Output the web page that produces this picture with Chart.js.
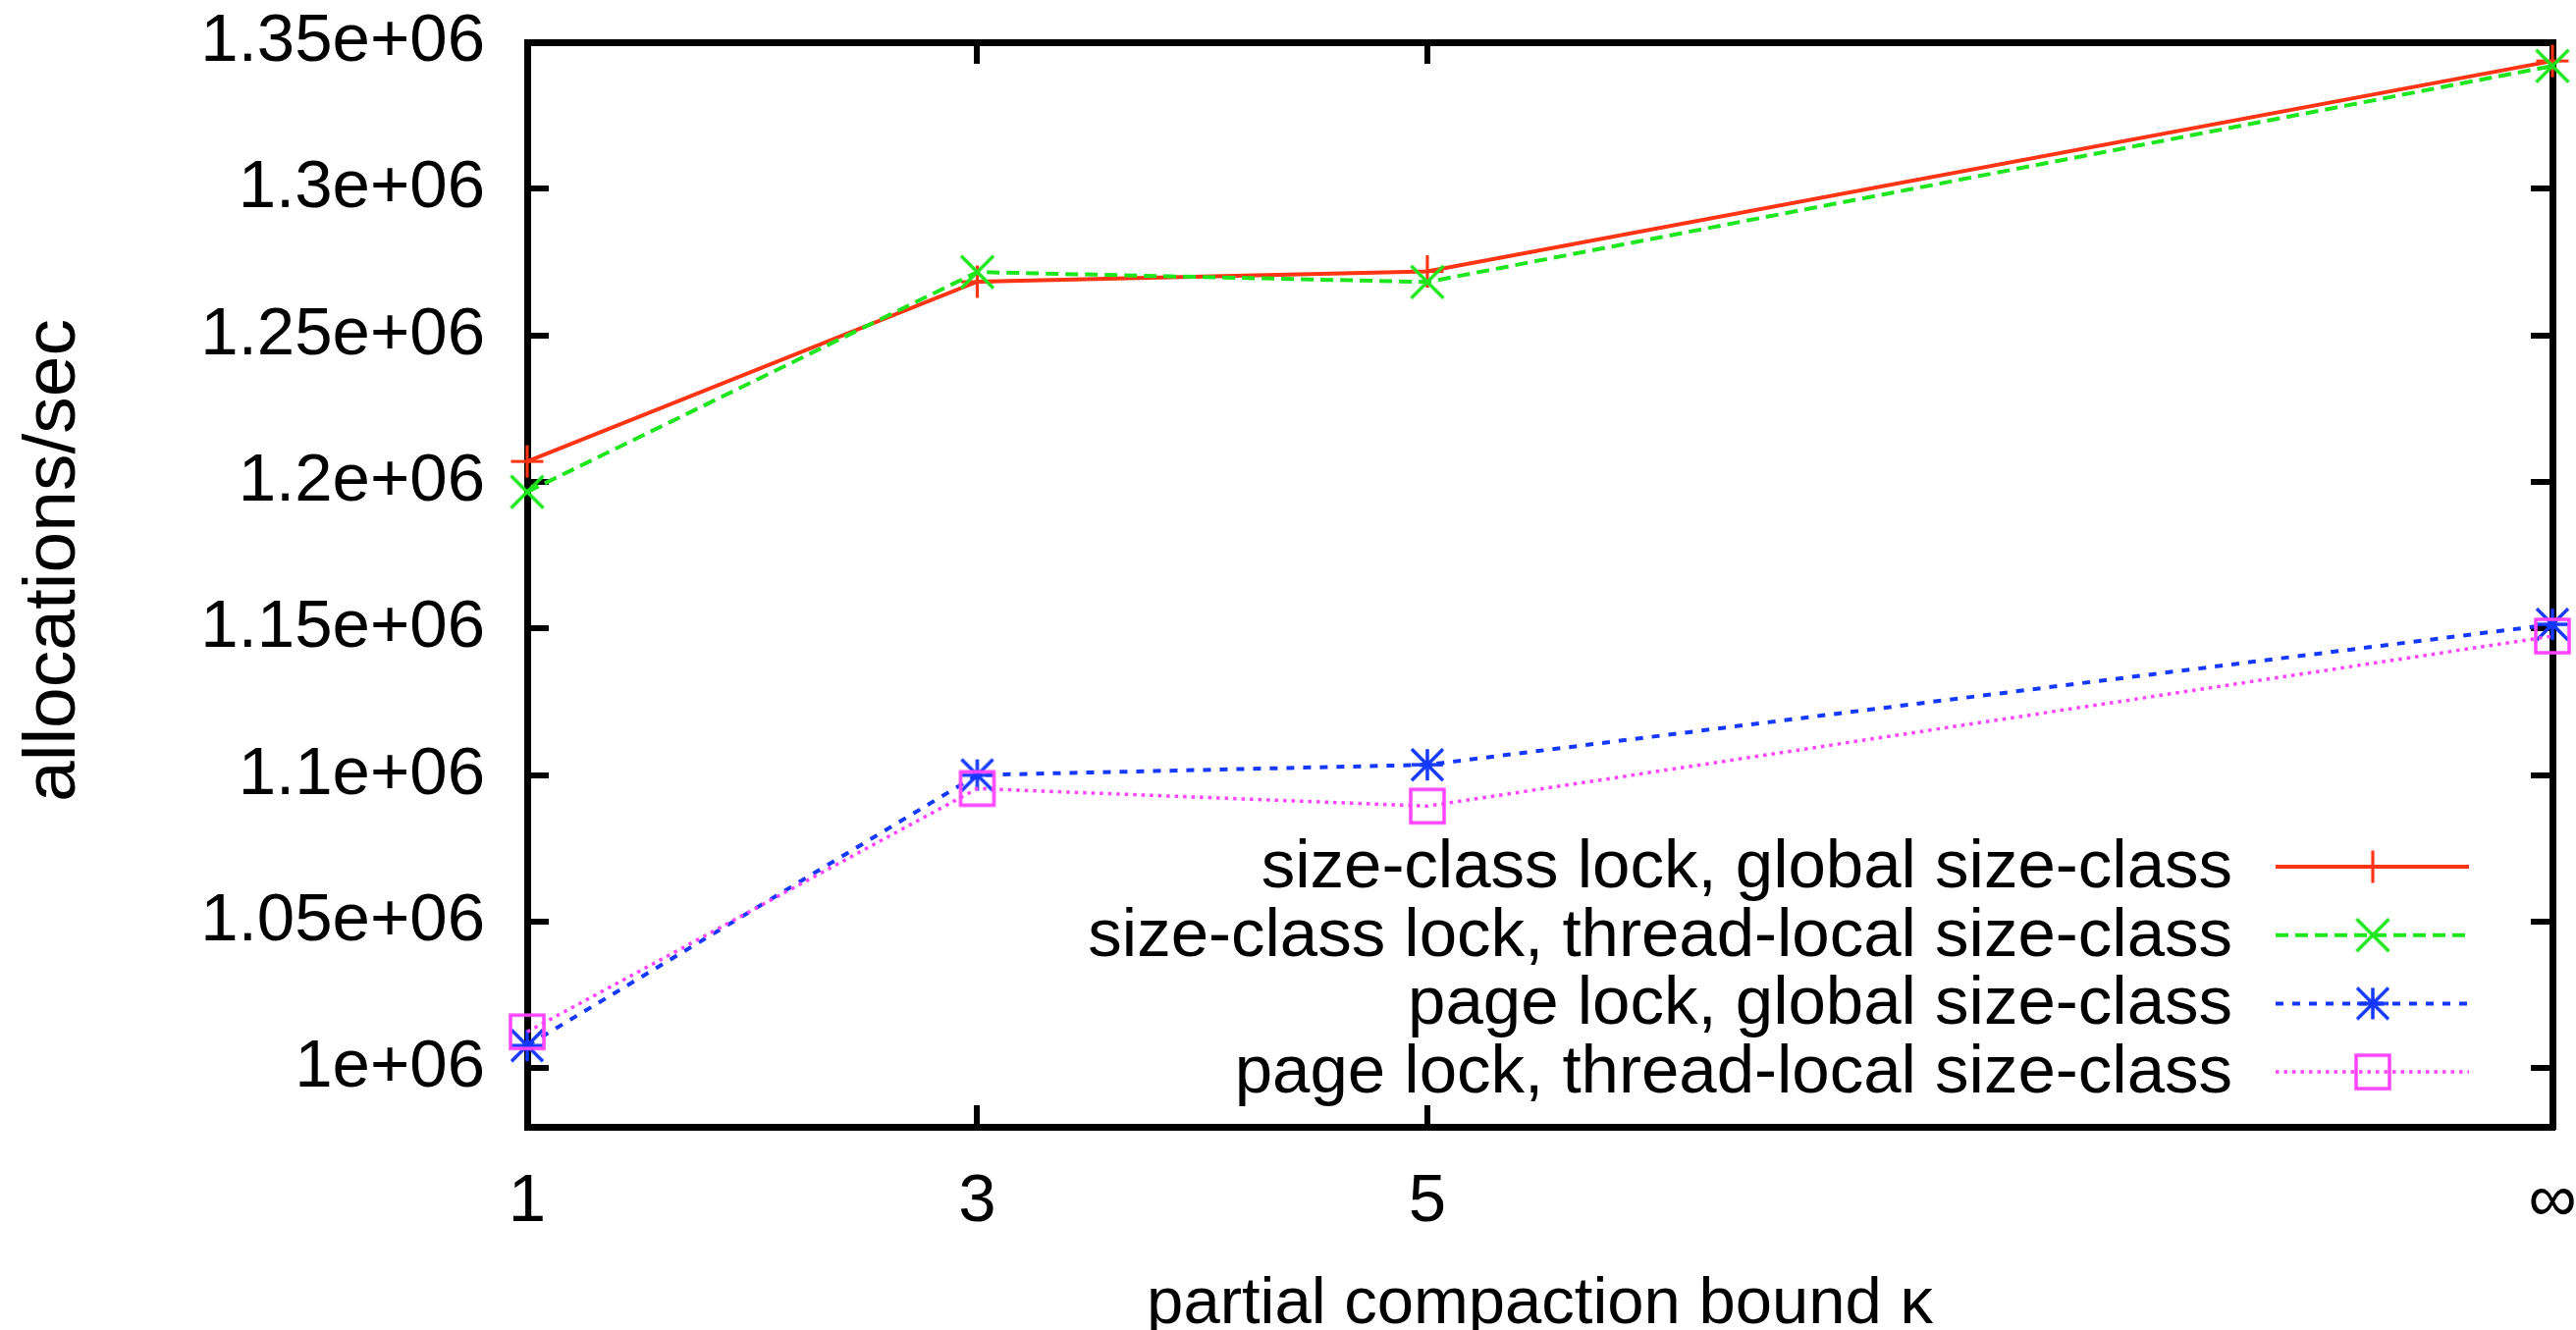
<!DOCTYPE html>
<html>
<head>
<meta charset="utf-8">
<script src="https://cdn.jsdelivr.net/npm/chart.js@4.4.1/dist/chart.umd.min.js"></script>
<style>
  html, body { margin: 0; padding: 0; background: #ffffff; }
  canvas { display: block; }
</style>
</head>
<body>
<canvas id="chart" width="2624" height="1355" style="width:2624px;height:1355px"></canvas>
<script>
// Partial compaction bound (x positions); "∞" is placed at 10.
const kappa = [1, 3, 5, 10];
const xTickValues = [1, 3, 5, 10];
const xTickLabels = ['1', '3', '5', '\u221E'];

const yTickValues = [1000000, 1050000, 1100000, 1150000, 1200000, 1250000, 1300000, 1350000];
const yTickLabels = ['1e+06', '1.05e+06', '1.1e+06', '1.15e+06', '1.2e+06', '1.25e+06', '1.3e+06', '1.35e+06'];

const seriesNames = [
  'size-class lock, global size-class',
  'size-class lock, thread-local size-class',
  'page lock, global size-class',
  'page lock, thread-local size-class'
];

// allocations/sec
const sizeClassLockGlobal      = [1207000, 1268300, 1271800, 1343600];
const sizeClassLockThreadLocal = [1196600, 1271600, 1268200, 1341900];
const pageLockGlobal           = [1007700, 1100000, 1103500, 1151400];
const pageLockThreadLocal      = [1012400, 1095400, 1089400, 1147400];

const FONT = "'Liberation Sans', Arial, Helvetica, sans-serif";
const FONT_SIZE = 69;
const Y_TITLE = { text: 'allocations/sec', x: 55, y: 571, size: 75 };

// gnuplot-like point symbols drawn on small canvases
function makeMarker(kind, color, half, lw) {
  const size = Math.ceil(2 * half + lw + 4);
  const c = document.createElement('canvas');
  c.width = size; c.height = size;
  const g = c.getContext('2d');
  const m = size / 2;
  g.strokeStyle = color;
  g.lineWidth = lw;
  g.lineCap = 'butt';
  g.beginPath();
  if (kind === 'plus' || kind === 'star') {
    g.moveTo(m - half, m); g.lineTo(m + half, m);
    g.moveTo(m, m - half); g.lineTo(m, m + half);
  }
  if (kind === 'cross' || kind === 'star') {
    g.moveTo(m - half, m - half); g.lineTo(m + half, m + half);
    g.moveTo(m - half, m + half); g.lineTo(m + half, m - half);
  }
  if (kind === 'box') {
    g.rect(m - half, m - half, 2 * half, 2 * half);
  }
  g.stroke();
  return c;
}

const colors = ['#ff3414', '#1ee61e', '#1438ff', '#ff44ff'];
const markers = [
  makeMarker('plus', colors[0], 16.5, 3.2),
  makeMarker('cross', colors[1], 16.5, 3.5),
  makeMarker('star', colors[2], 16, 3.5),
  makeMarker('box', colors[3], 17, 3.5)
];
const dashes = [[], [13, 7], [8, 9], [3.5, 5]];
const widths = [4, 4, 4, 3.5];
const values = [sizeClassLockGlobal, sizeClassLockThreadLocal, pageLockGlobal, pageLockThreadLocal];

const datasets = values.map((vals, i) => ({
  label: seriesNames[i],
  data: kappa.map((k, j) => ({ x: k, y: vals[j] })),
  borderColor: colors[i],
  backgroundColor: colors[i],
  borderWidth: widths[i],
  borderDash: dashes[i],
  borderCapStyle: 'butt',
  pointStyle: markers[i],
  pointRadius: 16,
  tension: 0,
  fill: false,
  clip: false,
  order: 3 - i
}));

// key: label text right-aligned, then a line sample with its symbol; plus the y-axis label
const KEY = { textRight: 2274, x0: 2318, x1: 2515, mark: 2417, top: 883, gap: 69.7 };
const keyPlugin = {
  id: 'gnuplotKey',
  afterDraw(chart) {
    const ctx = chart.ctx;
    ctx.save();
    ctx.font = FONT_SIZE + 'px ' + FONT;
    ctx.textAlign = 'right';
    ctx.textBaseline = 'middle';
    chart.data.datasets.forEach((ds, i) => {
      const y = KEY.top + i * KEY.gap;
      ctx.fillStyle = '#000';
      ctx.fillText(ds.label, KEY.textRight, y + 2);
      ctx.strokeStyle = ds.borderColor;
      ctx.lineWidth = ds.borderWidth;
      ctx.lineCap = 'butt';
      ctx.setLineDash(ds.borderDash || []);
      ctx.beginPath();
      ctx.moveTo(KEY.x0, y);
      ctx.lineTo(KEY.x1, y);
      ctx.stroke();
      ctx.setLineDash([]);
      const img = ds.pointStyle;
      ctx.drawImage(img, KEY.mark - img.width / 2, y - img.height / 2);
    });
    ctx.translate(Y_TITLE.x, Y_TITLE.y);
    ctx.rotate(-Math.PI / 2);
    ctx.font = Y_TITLE.size + 'px ' + FONT;
    ctx.textAlign = 'center';
    ctx.fillStyle = '#000';
    ctx.fillText(Y_TITLE.text, 0, 0);
    ctx.restore();
  }
};

// fixed box sizes so the plot frame sits where it should
function fixBox(w, h) {
  return s => {
    if (w !== null) s.width = w;
    if (h !== null) s.height = h;
    s.paddingTop = 0; s.paddingBottom = 0; s.paddingLeft = 0; s.paddingRight = 0;
  };
}

const frameGrid = {
  display: true,
  drawOnChartArea: false,
  drawTicks: true,
  tickLength: -22,
  lineWidth: 6,
  color: '#000'
};
const frameBorder = { display: true, width: 7, color: '#000' };

new Chart(document.getElementById('chart'), {
  type: 'line',
  data: { datasets },
  plugins: [keyPlugin],
  options: {
    responsive: false,
    animation: false,
    devicePixelRatio: 1,
    layout: { padding: 0, autoPadding: false },
    plugins: { legend: { display: false }, tooltip: { enabled: false } },
    events: [],
    scales: {
      x: {
        type: 'linear',
        position: 'bottom',
        min: 1, max: 10,
        z: 1,
        afterBuildTicks: s => { s.ticks = xTickValues.map(v => ({ value: v })); },
        afterFit: fixBox(null, 207),
        ticks: {
          callback: v => xTickLabels[xTickValues.indexOf(v)],
          font: { family: FONT, size: FONT_SIZE },
          color: '#000',
          padding: 58,
          maxRotation: 0,
          autoSkip: false
        },
        grid: frameGrid,
        border: frameBorder,
        title: {
          display: true,
          text: 'partial compaction bound \u03BA',
          font: { family: FONT, size: 67, lineHeight: 1 },
          color: '#000',
          padding: { top: 0, bottom: -8 }
        }
      },
      x2: {
        type: 'linear',
        axis: 'x',
        position: 'top',
        min: 1, max: 10,
        z: 1,
        afterBuildTicks: s => { s.ticks = xTickValues.map(v => ({ value: v })); },
        afterFit: fixBox(null, 43),
        ticks: { display: false },
        grid: frameGrid,
        border: frameBorder
      },
      y: {
        type: 'linear',
        position: 'left',
        min: 980000, max: 1350000,
        z: 1,
        afterBuildTicks: s => { s.ticks = yTickValues.map(v => ({ value: v })); },
        afterFit: fixBox(537, null),
        ticks: {
          callback: v => yTickLabels[yTickValues.indexOf(v)],
          font: { family: FONT, size: FONT_SIZE },
          color: '#000',
          padding: 65,
          autoSkip: false
        },
        grid: frameGrid,
        border: frameBorder
      },
      y2: {
        type: 'linear',
        axis: 'y',
        position: 'right',
        min: 980000, max: 1350000,
        z: 1,
        afterBuildTicks: s => { s.ticks = yTickValues.map(v => ({ value: v })); },
        afterFit: fixBox(24, null),
        ticks: { display: false },
        grid: frameGrid,
        border: frameBorder
      }
    }
  }
});
</script>
</body>
</html>
